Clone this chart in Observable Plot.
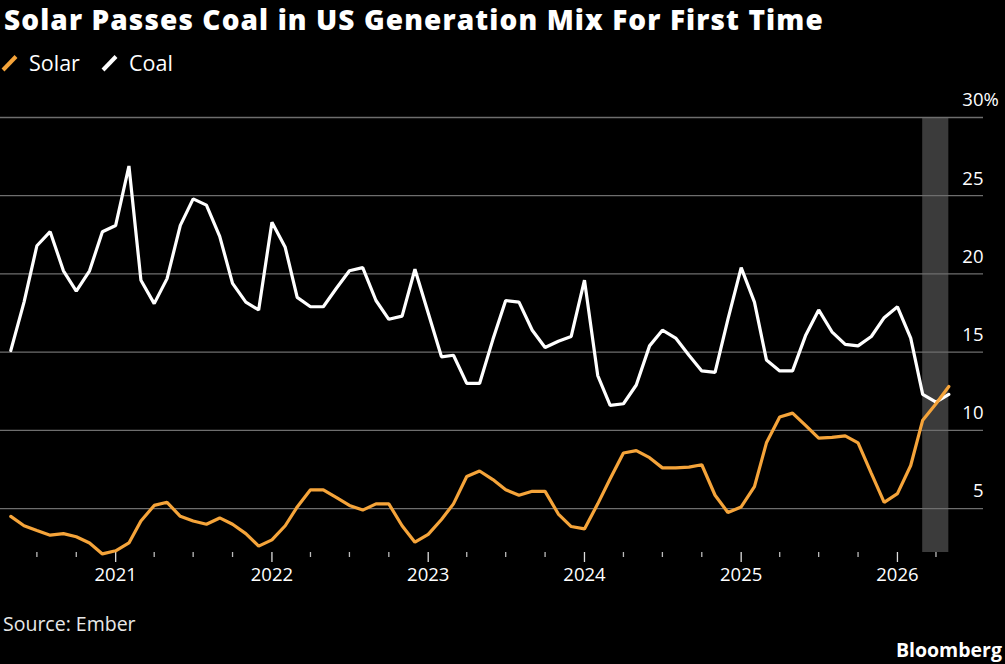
<!DOCTYPE html>
<html>
<head>
<meta charset="utf-8">
<script src="https://cdn.jsdelivr.net/npm/d3@7"></script>
<script src="https://cdn.jsdelivr.net/npm/@observablehq/plot@0.6"></script>
<style>
  html, body { margin: 0; padding: 0; background: #000; }
  #wrap { position: relative; width: 1005px; height: 664px; overflow: hidden; background: #000; font-family: "Open Sans", sans-serif; }
  #chart { position: absolute; left: 0; top: 90px; }
  #overlay { position: absolute; left: 0; top: 0; pointer-events: none; }
</style>
</head>
<body>
<div id="wrap">
  <div id="chart"></div>
  <svg id="overlay" width="1005" height="664" font-family="Open Sans, sans-serif">
    <text x="4" y="30" fill="#fff" font-size="28" font-weight="800" letter-spacing="1.1">Solar Passes Coal in US Generation Mix For First Time</text>
    <line x1="3" y1="70" x2="16" y2="56.5" stroke="#f5a43a" stroke-width="4"/>
    <text x="29" y="70.7" fill="#fff" font-size="21.5">Solar</text>
    <line x1="103" y1="70" x2="116" y2="56.5" stroke="#fff" stroke-width="4"/>
    <text x="129" y="70.7" fill="#fff" font-size="21.5">Coal</text>
    <text x="3" y="630.5" fill="#e8e8e8" font-size="19.5">Source: Ember</text>
    <text x="1002" y="656.5" fill="#fff" font-size="19.5" font-weight="700" text-anchor="end">Bloomberg</text>
  </svg>
</div>
<script>
// Monthly share of US generation (%), May 2020 – May 2026
const startMonth = "2020-05-01";
const coal = [
  15.1, 18.2, 21.8, 22.7, 20.2, 18.9, 20.2, 22.7,
  23.1, 26.9, 19.6, 18.1, 19.7, 23.1, 24.8, 24.4, 22.4, 19.4, 18.2, 17.7,
  23.3, 21.7, 18.5, 17.9, 17.9, 19.1, 20.2, 20.4, 18.3, 17.1, 17.3, 20.3,
  17.5, 14.7, 14.8, 13.0, 13.0, 15.8, 18.3, 18.2, 16.4, 15.3, 15.7, 16.0,
  19.6, 13.5, 11.6, 11.7, 12.9, 15.4, 16.4, 15.9, 14.8, 13.8, 13.7, 17.1,
  20.4, 18.2, 14.5, 13.8, 13.8, 16.1, 17.7, 16.3, 15.5, 15.4, 16.0, 17.2,
  17.9, 15.9, 12.3, 11.8, 12.3
];
const solar = [
  4.5, 3.9, 3.6, 3.3, 3.4, 3.2, 2.8, 2.1,
  2.3, 2.8, 4.2, 5.2, 5.4, 4.5, 4.2, 4.0, 4.4, 4.0, 3.4, 2.6,
  3.0, 3.9, 5.1, 6.2, 6.2, 5.7, 5.2, 4.9, 5.3, 5.3, 3.9, 2.85,
  3.35, 4.3, 5.3, 7.05, 7.4, 6.85, 6.2, 5.85, 6.1, 6.1, 4.65, 3.85,
  3.7, 5.3, 6.9, 8.55, 8.7, 8.25, 7.6, 7.6, 7.65, 7.8, 5.85, 4.75,
  5.1, 6.4, 9.2, 10.85, 11.1, 10.3, 9.5, 9.55, 9.65, 9.2, 7.25, 5.4,
  5.95, 7.75, 10.65, 11.7, 12.8
];
const yTicks = [5, 10, 15, 20, 25, 30];
const yTickLabels = ["5", "10", "15", "20", "25", "30"];
const yUnit = "%";
const yearTicks = ["2021-01-01", "2022-01-01", "2023-01-01", "2024-01-01", "2025-01-01", "2026-01-01"];
const yearLabels = ["2021", "2022", "2023", "2024", "2025", "2026"];
const highlight = ["2026-03-01", "2026-05-01"];
const xDomain = ["2020-04-07", "2026-07-21"];
const yDomain = [2.19, 30];

const months = coal.map((_, i) => d3.utcMonth.offset(new Date(startMonth), i));
const coalData = months.map((d, i) => ({date: d, value: coal[i]}));
const solarData = months.map((d, i) => ({date: d, value: solar[i]}));
const quarterTicks = d3.utcMonth.every(3).range(new Date("2020-07-01"), new Date("2026-05-01"))
  .filter(d => d.getUTCMonth() !== 0);
const years = yearTicks.map(d => new Date(d));
const xEnd = new Date(xDomain[1]);

const chart = Plot.plot({
  width: 1005,
  height: 510,
  marginLeft: 0,
  marginRight: 22,
  marginTop: 27,
  marginBottom: 48,
  style: {background: "#000", color: "#fff", fontFamily: "Open Sans, sans-serif", overflow: "visible"},
  x: {type: "utc", domain: xDomain.map(d => new Date(d))},
  y: {domain: yDomain, axis: null},
  marks: [
    Plot.rect([highlight], {x1: d => new Date(d[0]), x2: d => new Date(d[1]), y1: yDomain[0], y2: yDomain[1], fill: "#3b3b3b"}),
    Plot.ruleY(yTicks, {stroke: "#6e6e6e", strokeWidth: 1.3}),
    Plot.text(yTicks, {x: xEnd, y: d => d, text: (d, i) => yTickLabels[i], textAnchor: "end", lineAnchor: "middle", dy: -17, fontSize: 18.5, fill: "#fff"}),
    Plot.text([yTicks[yTicks.length - 1]], {x: xEnd, y: d => d, text: () => yUnit, textAnchor: "start", lineAnchor: "middle", dy: -17, fontSize: 18.5, fill: "#fff"}),
    Plot.axisX(quarterTicks, {tickSize: 5, tickFormat: () => "", stroke: "#bbb", strokeWidth: 1.3}),
    Plot.axisX(years, {tickSize: 10, tickPadding: 5, tickFormat: (d, i) => yearLabels[i], stroke: "#ddd", strokeWidth: 1.3, fontSize: 18.5, fill: "#fff"}),
    Plot.line(coalData, {x: "date", y: "value", stroke: "#fff", strokeWidth: 3.2, strokeLinejoin: "miter"}),
    Plot.line(solarData, {x: "date", y: "value", stroke: "#f5a43a", strokeWidth: 3.2, strokeLinejoin: "miter"})
  ]
});
document.getElementById("chart").appendChild(chart);
</script>
</body>
</html>
